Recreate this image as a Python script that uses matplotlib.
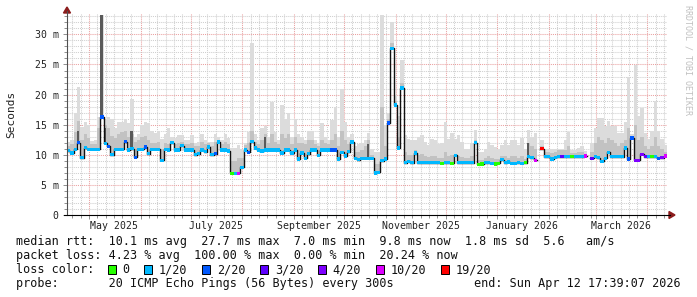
import datetime as dt
import numpy as np
import matplotlib
matplotlib.use('Agg')
import matplotlib.pyplot as plt
import matplotlib.dates as mdates
from matplotlib.lines import Line2D
from matplotlib.patches import Rectangle, Polygon
from matplotlib.ticker import MultipleLocator, FuncFormatter

nan = np.nan

# graph spans 360 days, data kept in 2-day bins
start = dt.datetime(2025, 4, 17, 17, 39)
end = dt.datetime(2026, 4, 12, 17, 39)
bin_days = 2

# median rtt per bin (ms)
median_ms = [
    10.7, 10.3, 10.9, 12.0, 9.5, 11.2, 10.9, 10.9, 10.9, 10.9, 16.3, 11.9, 11.4, 10.0, 10.9, 10.9, 10.9, 12.2, 10.8, 11.0,
    9.6, 10.9, 10.9, 11.3, 10.2, 10.9, 10.9, 10.9, 9.1, 10.9, 10.8, 12.0, 10.8, 10.8, 11.5, 10.8, 10.8, 10.8, 10.0, 10.2,
    10.8, 10.5, 11.3, 10.0, 10.2, 12.1, 10.8, 10.8, 10.6, 6.9, 6.9, 6.9, 7.9, 10.8, 10.4, 12.2, 11.1, 10.8, 10.6, 10.8,
    10.8, 10.8, 10.8, 10.8, 10.3, 10.8, 10.8, 10.3, 10.8, 9.3, 10.3, 9.4, 10.2, 10.8, 10.8, 9.9, 10.8, 10.8, 10.8, 10.8,
    10.8, 9.3, 10.4, 9.8, 10.5, 12.1, 9.4, 9.2, 9.4, 9.4, 9.4, 9.4, 7.0, 7.1, 9.0, 9.3, 15.3, 27.7, 18.3, 11.1,
    21.1, 8.7, 8.9, 8.7, 10.3, 8.7, 8.7, 8.7, 8.7, 8.7, 8.7, 8.7, 8.6, 8.7, 8.7, 8.6, 9.9, 8.7, 8.7, 8.7,
    8.7, 8.7, 12.0, 8.4, 8.5, 8.7, 8.7, 8.6, 8.5, 8.6, 9.2, 8.7, 8.8, 8.6, 8.6, 8.7, 8.6, 8.7, 9.7, 9.5,
    9.1, nan, 11.0, 9.7, 9.7, 9.3, 9.6, 9.7, 9.7, 9.7, 9.7, 9.7, 9.7, 9.7, 9.7, 9.8, nan, 9.4, 9.7, 9.5,
    8.9, 9.4, 10.4, 9.7, 9.7, 9.7, 9.7, 11.1, 9.3, 12.8, 9.1, 9.1, 10.1, 9.7, 9.7, 9.7, 9.7, 9.4, 9.5, 9.8,
]

# loss class per bin (index into loss_labels)
loss_idx = [
    1, 1, 1, 2, 1, 1, 1, 1, 1, 1, 2, 1, 2, 1, 1, 1, 1, 2, 1, 1,
    2, 1, 1, 2, 1, 1, 1, 1, 1, 1, 1, 1, 1, 1, 1, 1, 1, 1, 1, 1,
    1, 1, 1, 1, 2, 1, 1, 1, 1, 0, 1, 5, 1, 1, 2, 1, 1, 1, 1, 1,
    1, 1, 1, 1, 1, 1, 1, 1, 1, 1, 1, 1, 1, 1, 1, 1, 1, 1, 1, 2,
    2, 1, 1, 1, 1, 1, 1, 1, 1, 1, 1, 1, 1, 1, 1, 1, 2, 1, 1, 1,
    1, 1, 1, 1, 1, 1, 1, 1, 1, 1, 1, 1, 0, 1, 1, 0, 1, 1, 1, 1,
    1, 1, 1, 0, 0, 1, 1, 1, 0, 0, 1, 1, 1, 1, 1, 1, 1, 0, 1, 1,
    5, 1, 6, 1, 1, 1, 1, 1, 3, 1, 1, 0, 1, 1, 1, 5, 1, 3, 1, 1,
    1, 1, 1, 1, 1, 1, 1, 1, 2, 2, 4, 4, 4, 3, 1, 0, 1, 2, 4, 5,
]

# smoke: highest ping per bin (ms)
smoke_max = [
    12.2, 12.5, 16.9, 21.3, 14.6, 15.5, 15.0, 12.3, 12.5, 16.3, 33.2, 15.8, 16.2, 16.0, 14.5, 15.5, 15.5, 16.0, 15.2, 19.3,
    13.0, 13.5, 15.0, 15.5, 15.2, 14.0, 13.6, 13.9, 12.7, 13.5, 14.4, 13.0, 12.8, 13.3, 13.3, 12.5, 12.5, 13.3, 12.0, 12.2,
    13.5, 12.5, 12.2, 12.2, 13.5, 13.0, 12.5, 13.5, 12.8, 11.1, 11.1, 11.6, 11.0, 12.0, 13.8, 28.6, 13.5, 12.5, 14.4, 14.7,
    13.0, 18.8, 13.8, 12.5, 18.3, 16.0, 16.9, 13.0, 16.0, 13.5, 13.0, 12.5, 14.0, 14.0, 12.5, 12.0, 15.2, 13.0, 12.5, 15.8,
    18.0, 13.0, 21.0, 15.5, 13.0, 13.5, 11.5, 11.8, 12.0, 12.5, 13.6, 11.0, 10.5, 10.5, 33.2, 15.0, 17.0, 32.1, 20.0, 16.5,
    25.7, 13.3, 12.7, 12.5, 12.5, 13.0, 13.3, 12.2, 11.6, 12.7, 12.5, 11.8, 12.0, 15.5, 12.7, 13.6, 12.7, 13.3, 12.2, 11.0,
    11.0, 12.0, 14.1, 10.5, 10.5, 11.0, 12.2, 11.6, 11.3, 11.0, 11.6, 12.5, 11.6, 12.5, 12.5, 11.6, 12.8, 11.0, 14.1, 13.0,
    13.6, nan, 12.5, 11.0, 11.0, 11.0, 11.0, 11.0, 11.0, 12.5, 13.8, 10.8, 10.8, 11.2, 11.4, 10.6, nan, 11.9, 14.4, 16.1,
    16.1, 14.7, 15.6, 14.7, 14.7, 13.6, 13.6, 15.5, 23.0, 13.5, 24.9, 16.5, 17.7, 13.6, 12.7, 14.0, 18.9, 13.9, 12.7, 11.6,
]

# smoke: denser middle band top per bin (ms)
smoke_mid = [
    11.5, 11.8, 13.8, 15.6, 12.5, 13.5, 12.8, 11.8, 11.8, 14.5, 16.3, 15.0, 14.5, 13.2, 12.8, 13.5, 13.8, 14.0, 13.0, 13.5,
    12.2, 12.5, 13.0, 13.2, 12.5, 12.0, 12.0, 12.2, 11.0, 12.0, 11.8, 12.2, 11.8, 12.0, 12.2, 11.8, 11.8, 12.0, 11.5, 11.5,
    12.2, 11.8, 12.0, 11.5, 12.2, 12.2, 11.8, 12.2, 11.8, 9.0, 9.0, 9.5, 9.5, 11.6, 12.0, 14.0, 12.2, 11.8, 12.5, 13.5,
    12.0, 13.5, 12.2, 11.8, 13.5, 12.8, 13.5, 11.8, 13.0, 12.0, 12.0, 11.8, 12.5, 12.5, 11.8, 11.5, 12.5, 12.0, 11.8, 12.5,
    13.5, 11.5, 14.0, 12.5, 11.8, 12.5, 10.5, 10.5, 10.8, 11.5, 12.5, 10.0, 8.5, 8.5, 18.0, 11.5, 16.0, 28.5, 19.0, 13.0,
    22.0, 10.5, 10.0, 10.0, 10.8, 10.0, 10.2, 9.8, 9.6, 9.8, 9.8, 9.5, 9.5, 10.5, 9.8, 10.0, 10.2, 9.8, 9.6, 9.5,
    9.5, 9.8, 12.5, 9.2, 9.2, 9.5, 9.8, 9.5, 9.3, 9.3, 9.8, 9.8, 9.5, 9.8, 9.8, 9.5, 9.8, 9.3, 12.0, 11.5,
    11.0, nan, 11.5, 10.5, 10.5, 10.3, 10.5, 10.8, 10.8, 10.8, 11.5, 10.3, 10.3, 10.5, 10.5, 10.2, nan, 10.5, 12.0, 13.0,
    12.5, 12.0, 12.8, 12.5, 12.0, 11.5, 12.0, 12.5, 14.5, 12.8, 15.0, 12.5, 13.0, 11.5, 11.0, 11.5, 13.0, 11.5, 11.0, 10.5,
]

# bins where the smoke is dark almost to the top
dark_bins = [3, 10, 11, 19, 59, 90, 138]
dark_top = [14.0, 33.2, 14.5, 14.0, 13.0, 11.8, 12.0]

loss_labels = ['0', '1/20', '2/20', '3/20', '4/20', '10/20', '19/20']
loss_colors = ['#26ff00', '#00b8ff', '#0059ff', '#5e00ff', '#7e00ff', '#dd00ff', '#ff0000']

legend_lines = [
    'median rtt:  10.1 ms avg  27.7 ms max  7.0 ms min  9.8 ms now  1.8 ms sd  5.6   am/s',
    'packet loss: 4.23 % avg  100.00 % max  0.00 % min  20.24 % now',
]
probe_text = 'probe:       20 ICMP Echo Pings (56 Bytes) every 300s'
end_text = 'end: Sun Apr 12 17:39:07 2026'

W, H = 697, 297
MONO = 'DejaVu Sans Mono'


def fx(x):
    return x / W


def fy(y):
    return 1 - y / H


fig = plt.figure(figsize=(W / 100, H / 100), dpi=100)
fig.patch.set_facecolor('white')
ax = fig.add_axes([fx(67), fy(215), 600 / W, 202.3 / H])

t0 = mdates.date2num(start)
x_left = t0 + bin_days * np.arange(len(median_ms))
med = np.array(median_ms)
smax = np.array(smoke_max)
smid = np.array(smoke_mid)
ok = ~np.isnan(med)

# smoke
ax.bar(x_left[ok], (smax - med)[ok], bottom=med[ok], width=bin_days, align='edge',
       color='#dcdcdc', linewidth=0, zorder=2)
ax.bar(x_left[ok], (smid - med)[ok], bottom=med[ok], width=bin_days, align='edge',
       color='#c2c2c2', linewidth=0, zorder=2.1)
db = np.array(dark_bins)
ax.bar(x_left[db], np.array(dark_top) - med[db], bottom=med[db], width=bin_days * 0.7, align='edge',
       color='#5a5a5a', linewidth=0, zorder=2.2)

# median line, then loss-coloured band on it
x_edges = np.append(x_left, x_left[-1] + bin_days)
ax.step(x_edges, np.append(med, med[-1]), where='post', color='#111111', lw=1.0, zorder=3)
band = 0.28
cols = [loss_colors[k] for k in np.array(loss_idx)[ok]]
ax.bar(x_left[ok], 2 * band, bottom=med[ok] - band, width=bin_days, align='edge',
       color=cols, linewidth=0, zorder=4)

ax.set_xlim(t0, mdates.date2num(end))
ax.set_ylim(0, 33.6)

# grid and ticks
ax.set_axisbelow(True)
ax.xaxis.set_major_locator(mdates.MonthLocator())
ax.xaxis.set_major_formatter(FuncFormatter(lambda v, p: ''))
ax.xaxis.set_minor_locator(mdates.DayLocator(bymonthday=[6, 11, 16, 21, 26]))


def month_label(v, pos):
    d = mdates.num2date(v)
    if d.day == 16 and d.month % 2 == 1:
        return d.strftime('%B %Y')
    return ''


ax.xaxis.set_minor_formatter(FuncFormatter(month_label))
ax.yaxis.set_major_locator(MultipleLocator(5))
ax.yaxis.set_minor_locator(MultipleLocator(1))
ax.yaxis.set_major_formatter(FuncFormatter(lambda v, p: '0' if v == 0 else '%d m' % v))

ax.grid(which='minor', color='#cfcfcf', linestyle=(0, (1, 1)), lw=0.75)
ax.grid(which='major', color='#eaa0a0', linestyle=(0, (1, 1)), lw=0.75)
ax.tick_params(axis='both', which='both', direction='out', color='#909090', width=0.7,
               labelsize=7.1, labelfontfamily=MONO, labelcolor='#222222')
ax.tick_params(axis='x', which='minor', length=2, pad=2)
ax.tick_params(axis='x', which='major', length=3, pad=2)
ax.tick_params(axis='y', which='major', length=3, pad=2.9)
ax.tick_params(axis='y', which='minor', length=2)
for s in ax.spines.values():
    s.set_visible(False)

# axis lines with arrow heads
fig.add_artist(Line2D([fx(67), fx(67)], [fy(215), fy(11)], color='#505050', lw=0.8))
fig.add_artist(Line2D([fx(64), fx(670)], [fy(215), fy(215)], color='black', lw=0.8))
fig.add_artist(Polygon([(fx(63.5), fy(13)), (fx(70.5), fy(13)), (fx(67), fy(7))],
                       closed=True, color='#8b1c1c', transform=fig.transFigure))
fig.add_artist(Polygon([(fx(669), fy(211.5)), (fx(669), fy(218.5)), (fx(675), fy(215))],
                       closed=True, color='#8b1c1c', transform=fig.transFigure))

fig.text(fx(11), fy(114), 'Seconds', rotation=90, ha='center', va='center',
         family=MONO, fontsize=8, color='#222222')
fig.text(fx(688), fy(60), 'RRDTOOL / TOBI OETIKER', rotation=270, ha='center', va='center',
         family=MONO, fontsize=6, color='#c0c0c0')

# legend block
txt = dict(family=MONO, fontsize=8.5, color='#111111', va='baseline', ha='left')
fig.text(fx(16), fy(245), legend_lines[0], **txt)
fig.text(fx(16), fy(259), legend_lines[1], **txt)
fig.text(fx(16), fy(273.3), 'loss color:', **txt)
fig.text(fx(16), fy(287.5), probe_text, **txt)
fig.text(fx(681), fy(287.5), end_text, **dict(txt, ha='right'))

cw = 7.1
bx = 107.5
for lab, c in zip(loss_labels, loss_colors):
    fig.add_artist(Rectangle((fx(bx), fy(273.7)), 8 / W, 9 / H, facecolor=c, edgecolor='black',
                             lw=0.7, transform=fig.transFigure))
    fig.text(fx(bx + 15), fy(273.3), lab, **txt)
    bx = bx + 15 + len(lab) * cw + 14.5

fig.savefig('out.png', dpi=100)
